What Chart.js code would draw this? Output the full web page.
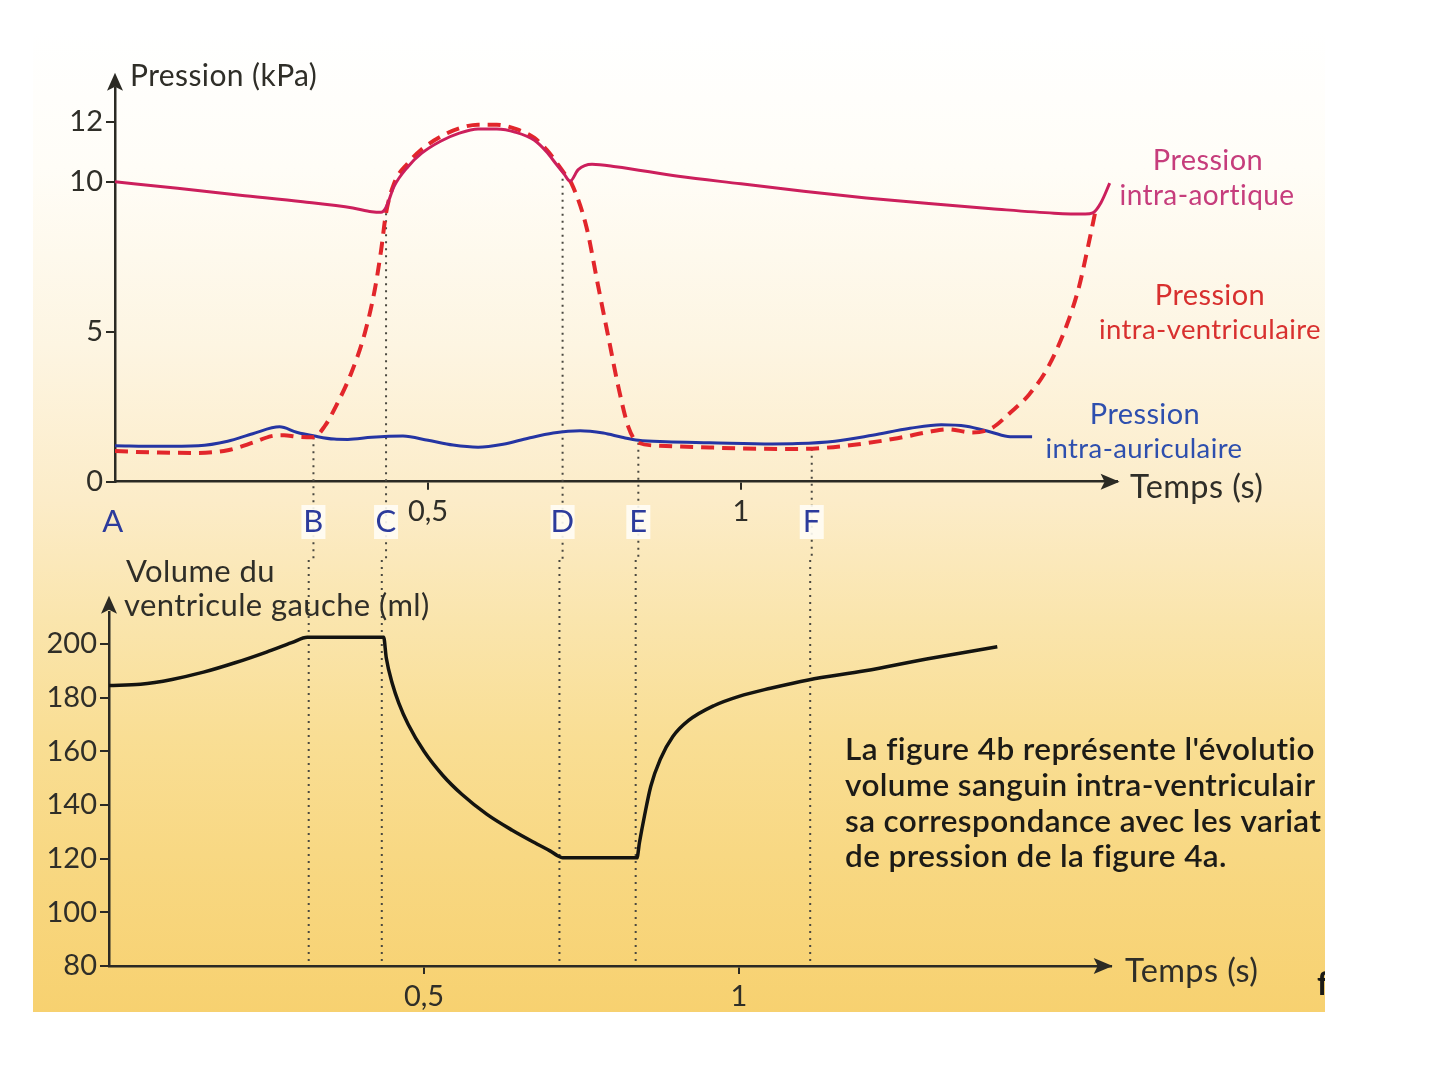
<!DOCTYPE html>
<html>
<head>
<meta charset="utf-8">
<title>Pression et volume du ventricule gauche</title>
<script src="https://cdn.jsdelivr.net/npm/chart.js@4.4.1/dist/chart.umd.min.js"></script>
<style>
  body { margin: 0; background: #fff; }
  #wrap { position: relative; width: 1440px; height: 1080px; overflow: hidden; }
  #paper {
    position: absolute; left: 33px; top: 30px; width: 1292px; height: 982px;
    background: linear-gradient(to bottom, #ffffff 0%, #fffdf7 14%, #fdf5e2 32%, #fcecc8 48%, #fae5ad 60%, #f9de94 72%, #f8d883 84%, #f7d170 100%);
  }
  canvas { position: absolute; left: 0; }
</style>
</head>
<body>
<div id="wrap">
  <div id="paper"></div>
  <canvas id="pressureChart" width="1440" height="560" style="top:0"></canvas>
  <canvas id="volumeChart" width="1440" height="520" style="top:560px"></canvas>
</div>
<script>
// ===== Data (temps en s) =====
const aorticTimes  = [0, 0.1, 0.2, 0.3, 0.38, 0.41, 0.425, 0.433, 0.446, 0.468, 0.49, 0.52, 0.55, 0.58, 0.61, 0.64, 0.67, 0.69, 0.705, 0.717, 0.727, 0.74, 0.762, 0.8, 0.9, 1.0, 1.1, 1.2, 1.3, 1.4, 1.5, 1.55, 1.562, 1.575, 1.589];
const aorticValues = [10.0, 9.78, 9.55, 9.33, 9.12, 9.0, 8.98, 9.15, 9.85, 10.5, 10.95, 11.35, 11.62, 11.76, 11.76, 11.65, 11.38, 10.98, 10.58, 10.27, 10.02, 10.4, 10.58, 10.5, 10.18, 9.93, 9.68, 9.46, 9.27, 9.1, 8.95, 8.92, 8.96, 9.3, 9.95];

const ventricleTimes  = [0, 0.07, 0.133, 0.18, 0.22, 0.25, 0.27, 0.29, 0.317, 0.335, 0.355, 0.377, 0.399, 0.415, 0.425, 0.433, 0.446, 0.468, 0.49, 0.52, 0.55, 0.58, 0.61, 0.64, 0.67, 0.69, 0.705, 0.717, 0.729, 0.753, 0.772, 0.788, 0.804, 0.82, 0.836, 0.87, 0.95, 1.0, 1.09, 1.16, 1.25, 1.3, 1.33, 1.37, 1.4, 1.43, 1.46, 1.49, 1.52, 1.54, 1.555, 1.566];
const ventricleValues = [1.02, 0.97, 0.96, 1.05, 1.3, 1.52, 1.55, 1.5, 1.48, 1.85, 2.6, 3.6, 4.95, 6.4, 7.7, 8.95, 9.95, 10.62, 11.08, 11.5, 11.78, 11.9, 11.9, 11.76, 11.46, 11.05, 10.65, 10.3, 9.95, 8.5, 6.5, 4.83, 3.17, 1.83, 1.3, 1.2, 1.14, 1.11, 1.09, 1.18, 1.45, 1.66, 1.75, 1.64, 1.78, 2.3, 2.9, 3.8, 5.2, 6.5, 7.9, 9.0];

const atriumTimes  = [0, 0.07, 0.133, 0.18, 0.22, 0.263, 0.29, 0.319, 0.35, 0.372, 0.41, 0.46, 0.5, 0.54, 0.58, 0.62, 0.66, 0.7, 0.743, 0.78, 0.81, 0.836, 0.88, 0.95, 1.05, 1.09, 1.15, 1.21, 1.27, 1.32, 1.36, 1.4, 1.43, 1.465];
const atriumValues = [1.2, 1.18, 1.2, 1.35, 1.6, 1.83, 1.65, 1.52, 1.42, 1.41, 1.48, 1.52, 1.38, 1.22, 1.15, 1.25, 1.45, 1.62, 1.7, 1.62, 1.48, 1.38, 1.33, 1.3, 1.26, 1.27, 1.35, 1.55, 1.78, 1.9, 1.85, 1.65, 1.5, 1.5];

const volumeTimes  = [0, 0.05, 0.1, 0.15, 0.2, 0.25, 0.29, 0.315, 0.436, 0.44, 0.45, 0.46, 0.475, 0.5, 0.53, 0.56, 0.6, 0.64, 0.68, 0.7, 0.712, 0.72, 0.838, 0.842, 0.85, 0.86, 0.875, 0.895, 0.92, 0.96, 1.0, 1.05, 1.11, 1.2, 1.3, 1.41];
const volumeValues = [184.5, 185, 186.8, 189.5, 193, 197, 200.5, 202.5, 202.5, 195, 185, 178, 170, 160, 151, 144, 136.5, 130.6, 125.4, 122.9, 121.1, 120.3, 120.3, 126, 136, 147, 157, 165.5, 171.5, 177, 180.5, 183.5, 186.6, 190, 194.5, 199];

const pressureTicks = [0, 5, 10, 12];
const volumeTicks = [80, 100, 120, 140, 160, 180, 200];
const timeTicks = [0.5, 1];
const timeTickLabels = ['0,5', '1'];

// repères B..F : instant + pression où démarre le pointillé
const markerLabels = ['B', 'C', 'D', 'E', 'F'];
const markerTimes = [0.317, 0.433, 0.715, 0.836, 1.113];
const markerFrom = [1.48, 8.95, 10.1, 1.3, 1.1];

// ===== Style =====
const colors = {
  axis: '#2b2a24',
  text: '#2f2e28',
  aortic: '#cc1f5c',
  aorticText: '#c63d7c',
  ventricle: '#e2262b',
  ventricleText: '#d8302f',
  atrium: '#2535a3',
  atriumText: '#2e4fae',
  letters: '#2c3b9c',
  volume: '#141410',
  dots: '#4a4840',
};

Chart.defaults.font.family = "Lato, 'Open Sans', sans-serif";
Chart.defaults.font.size = 29;
Chart.defaults.color = colors.text;

const toPoints = (ts, vs) => ts.map((t, i) => ({ x: t, y: vs[i] }));

function text(ctx, str, x, y, color, size, align, weight) {
  ctx.save();
  ctx.font = (weight || 'normal') + ' ' + (size || 29) + 'px Lato, sans-serif';
  ctx.letterSpacing = '0.4px'; // pas de ligatures "fi" / "ti"
  ctx.fillStyle = color || colors.text;
  ctx.textAlign = align || 'left';
  ctx.textBaseline = 'middle';
  ctx.fillText(str, x, y);
  ctx.restore();
}

function arrowUp(ctx, x, tipY) {
  ctx.save();
  ctx.fillStyle = colors.axis;
  ctx.beginPath();
  ctx.moveTo(x, tipY);
  ctx.lineTo(x - 8, tipY + 18);
  ctx.lineTo(x, tipY + 14);
  ctx.lineTo(x + 8, tipY + 18);
  ctx.closePath();
  ctx.fill();
  ctx.restore();
}

function arrowRight(ctx, tipX, y) {
  ctx.save();
  ctx.fillStyle = colors.axis;
  ctx.beginPath();
  ctx.moveTo(tipX, y);
  ctx.lineTo(tipX - 19, y - 8);
  ctx.lineTo(tipX - 15, y);
  ctx.lineTo(tipX - 19, y + 8);
  ctx.closePath();
  ctx.fill();
  ctx.restore();
}

function dotted(ctx, x, y1, y2) {
  ctx.save();
  ctx.strokeStyle = colors.dots;
  ctx.lineWidth = 2;
  ctx.setLineDash([2, 5]);
  ctx.beginPath();
  ctx.moveTo(x, y1);
  ctx.lineTo(x, y2);
  ctx.stroke();
  ctx.restore();
}

const axisStyle = {
  grid: { drawOnChartArea: false, tickLength: 9, color: colors.axis, lineWidth: 2 },
  border: { color: colors.axis, width: 2.5 },
};

// ===== Figure 4a : pressions =====
const pressureDecor = {
  id: 'pressureDecor',
  beforeDatasetsDraw(chart) {
    const { ctx, scales: { x, y } } = chart;
    markerTimes.forEach((t, i) => dotted(ctx, x.getPixelForValue(t), y.getPixelForValue(markerFrom[i]), chart.height));
  },
  afterDraw(chart) {
    const { ctx, chartArea, scales: { x } } = chart;
    arrowUp(ctx, chartArea.left, chartArea.top - 16);
    arrowRight(ctx, chartArea.right + 3, chartArea.bottom);
    text(ctx, 'Pression (kPa)', 130, 76, null, 30);
    text(ctx, 'Temps (s)', 1130, 488, null, 32.5);

    text(ctx, 'Pression', 1208, 161, colors.aorticText, 29, 'center');
    text(ctx, 'intra-aortique', 1207, 196, colors.aorticText, 28, 'center');
    text(ctx, 'Pression', 1210, 296, colors.ventricleText, 29, 'center');
    text(ctx, 'intra-ventriculaire', 1210, 330, colors.ventricleText, 27.5, 'center');
    text(ctx, 'Pression', 1145, 415, colors.atriumText, 29, 'center');
    text(ctx, 'intra-auriculaire', 1144, 449, colors.atriumText, 27.5, 'center');

    // repères A..F
    text(ctx, 'A', x.getPixelForValue(0) - 2, 522, colors.letters, 31, 'center');
    markerTimes.forEach((t, i) => {
      const px = x.getPixelForValue(t);
      ctx.fillStyle = 'rgba(255,253,245,0.9)';
      ctx.fillRect(px - 12, 505, 24, 34);
      text(ctx, markerLabels[i], px, 522, colors.letters, 31, 'center');
    });
  }
};

new Chart(document.getElementById('pressureChart'), {
  type: 'line',
  data: {
    datasets: [
      {
        label: 'Pression intra-aortique',
        data: toPoints(aorticTimes, aorticValues),
        borderColor: colors.aortic,
        borderWidth: 3,
      },
      {
        label: 'Pression intra-ventriculaire',
        data: toPoints(ventricleTimes, ventricleValues),
        borderColor: colors.ventricle,
        borderWidth: 4,
        borderDash: [13, 8],
      },
      {
        label: 'Pression intra-auriculaire',
        data: toPoints(atriumTimes, atriumValues),
        borderColor: colors.atrium,
        borderWidth: 3,
      },
    ]
  },
  options: {
    responsive: false,
    animation: false,
    events: [],
    layout: { padding: { top: 88.7, right: 323.4, left: 0, bottom: 0 } },
    elements: { point: { radius: 0 }, line: { cubicInterpolationMode: 'monotone', fill: false } },
    plugins: { legend: { display: false }, tooltip: { enabled: false } },
    scales: {
      x: {
        type: 'linear', min: 0, max: 1.6,
        afterBuildTicks: s => { s.ticks = timeTicks.map(v => ({ value: v })); },
        ticks: { padding: 5, callback: v => timeTickLabels[timeTicks.indexOf(v)] },
        afterFit: s => { s.height = 78.3; },
        ...axisStyle,
        grid: { ...axisStyle.grid, tickLength: 8 },
      },
      y: {
        type: 'linear', min: 0, max: 13.1,
        afterBuildTicks: s => { s.ticks = pressureTicks.map(v => ({ value: v })); },
        ticks: { padding: 3 },
        afterFit: s => { s.width = 115; },
        ...axisStyle,
      }
    }
  },
  plugins: [pressureDecor]
});

// ===== Figure 4b : volume =====
const volumeDecor = {
  id: 'volumeDecor',
  beforeDatasetsDraw(chart) {
    const { ctx, chartArea, scales: { x } } = chart;
    markerTimes.forEach(t => dotted(ctx, x.getPixelForValue(t), 0, chartArea.bottom));
  },
  afterDraw(chart) {
    const { ctx, chartArea } = chart;
    arrowUp(ctx, chartArea.left, chartArea.top - 16);
    arrowRight(ctx, chartArea.right + 2, chartArea.bottom);
    text(ctx, 'Volume du', 126, 12, null, 31);
    text(ctx, 'ventricule gauche (ml)', 124, 46, null, 31);
    text(ctx, 'Temps (s)', 1125, 412, null, 32.5);

    ctx.save();
    ctx.beginPath();
    ctx.rect(33, 0, 1292, 452);
    ctx.clip();
    const lines = ["La figure 4b représente l'évolutio", "volume sanguin intra-ventriculair", "sa correspondance avec les variat", "de pression de la figure 4a."];
    lines.forEach((l, i) => text(ctx, l, 845, 190 + i * 35.7, '#1c1b17', 31.5, 'left', 600));
    text(ctx, 'f', 1317, 425, '#1c1b17', 32, 'left', 'bold');
    ctx.restore();
  }
};

new Chart(document.getElementById('volumeChart'), {
  type: 'line',
  data: {
    datasets: [{
      label: 'Volume du ventricule gauche',
      data: toPoints(volumeTimes, volumeValues),
      borderColor: colors.volume,
      borderWidth: 3.5,
    }]
  },
  options: {
    responsive: false,
    animation: false,
    events: [],
    layout: { padding: { top: 51.8, right: 329.3, left: 0, bottom: 0 } },
    elements: { point: { radius: 0 }, line: { cubicInterpolationMode: 'monotone', fill: false } },
    plugins: { legend: { display: false }, tooltip: { enabled: false } },
    scales: {
      x: {
        type: 'linear', min: 0, max: 1.59,
        afterBuildTicks: s => { s.ticks = timeTicks.map(v => ({ value: v })); },
        ticks: { padding: 5, callback: v => timeTickLabels[timeTicks.indexOf(v)] },
        afterFit: s => { s.height = 114; },
        ...axisStyle,
        grid: { ...axisStyle.grid, tickLength: 8 },
      },
      y: {
        type: 'linear', min: 80, max: 212,
        afterBuildTicks: s => { s.ticks = volumeTicks.map(v => ({ value: v })); },
        ticks: { padding: 3 },
        afterFit: s => { s.width = 109; },
        ...axisStyle,
      }
    }
  },
  plugins: [volumeDecor]
});
</script>
</body>
</html>
